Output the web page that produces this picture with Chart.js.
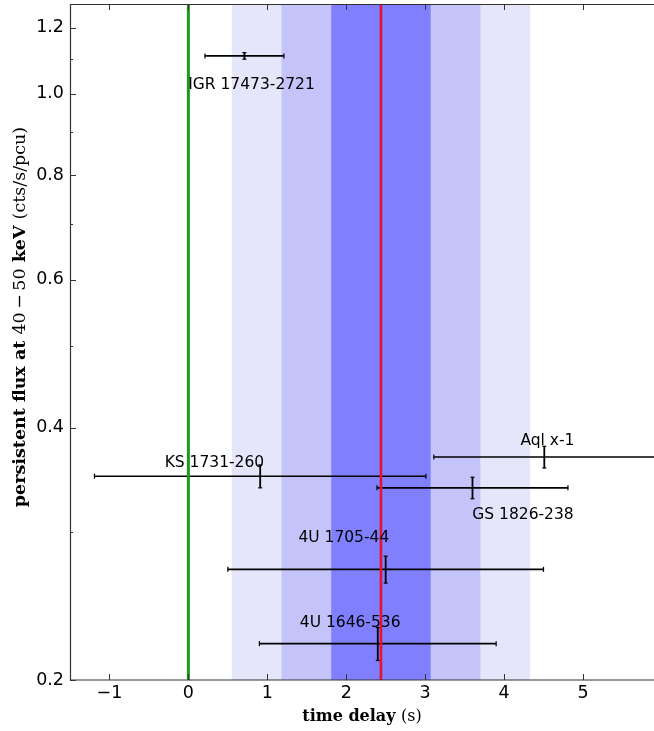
<!DOCTYPE html>
<html>
<head>
<meta charset="utf-8">
<script src="https://cdn.jsdelivr.net/npm/chart.js@4"></script>
<style>
  html, body { margin: 0; padding: 0; background: #fff; overflow: hidden; }
  canvas { display: block; }
</style>
</head>
<body>
<canvas id="delayChart" width="654" height="731"></canvas>
<script>
// Axis ticks
const xTicks = [-1, 0, 1, 2, 3, 4, 5];
const yTicks = [0.2, 0.4, 0.6, 0.8, 1.0, 1.2];
const yMinorTicks = [0.3, 0.5, 0.7, 0.9, 1.1];

// Sources: time delay (s) and persistent flux (cts/s/pcu)
const sources = ['IGR 17473-2721', 'KS 1731-260', 'Aql x-1', 'GS 1826-238', '4U 1705-44', '4U 1646-536'];
const delay = [0.71, 0.91, 4.51, 3.60, 2.50, 2.40];
const delayErr = [0.50, 2.10, 1.40, 1.21, 2.00, 1.50];
const flux = [1.11, 0.350, 0.369, 0.339, 0.271, 0.221];
const fluxErr = [0.010, 0.011, 0.011, 0.010, 0.010, 0.010];

// Where each source name is written (data coordinates)
const labelX = [0.80, 0.33, 4.55, 4.24, 1.97, 2.05];
const labelY = [1.025, 0.363, 0.386, 0.315, 0.295, 0.234];

// Mean delay and 1/2/3 sigma bands
const meanDelay = 2.44;
const bandHalfWidths = [1.89, 1.26, 0.63];
const bandColors = ['#e6e6fb', '#c4c4fb', '#8080ff'];

const xMin = -1.5, xMax = 5.9;
const yMin = 0.2, yMax = 1.28;

// axis titles: [text, weight]
const xTitle = [['time delay ', 'bold'], ['(s)', 'normal']];
const yTitle = [['persistent flux at ', 'bold'], ['40\u2009\u2212\u200950', 'normal'], [' keV ', 'bold'], ['(cts/s/pcu)', 'normal']];

const datasets = [];

// zero delay line and mean delay line (first = drawn on top)
datasets.push({
    data: [{ x: 0, y: yMin }, { x: 0, y: yMax }],
    borderColor: '#1c9a1c', borderWidth: 3, pointRadius: 0, showLine: true
});
datasets.push({
    data: [{ x: meanDelay, y: yMin }, { x: meanDelay, y: yMax }],
    borderColor: '#e8122c', borderWidth: 2.6, pointRadius: 0, showLine: true
});

// error bars
sources.forEach((name, i) => {
    datasets.push({
        label: name,
        data: [{ x: delay[i] - delayErr[i], y: flux[i] }, { x: delay[i] + delayErr[i], y: flux[i] }],
        borderColor: '#000', borderWidth: 1.6, showLine: true,
        pointStyle: 'line', pointRotation: 90, pointRadius: 2.5,
        pointBorderColor: '#000', pointBorderWidth: 1.2
    });
    datasets.push({
        label: name + ' flux',
        data: [{ x: delay[i], y: flux[i] - fluxErr[i] }, { x: delay[i], y: flux[i] + fluxErr[i] }],
        borderColor: '#000', borderWidth: 1.8, showLine: true,
        pointStyle: 'line', pointRotation: 0, pointRadius: 2,
        pointBorderColor: '#000', pointBorderWidth: 1.2
    });
});

// shaded sigma bands behind the data
const bandsPlugin = {
    id: 'bands',
    beforeDatasetsDraw(chart) {
        const { ctx, chartArea: a, scales: { x } } = chart;
        ctx.save();
        bandHalfWidths.forEach((hw, i) => {
            const x0 = x.getPixelForValue(meanDelay - hw);
            const x1 = x.getPixelForValue(meanDelay + hw);
            ctx.fillStyle = bandColors[i];
            ctx.fillRect(x0, a.top, x1 - x0, a.bottom - a.top);
        });
        ctx.restore();
    }
};

// source names
const labelsPlugin = {
    id: 'sourceLabels',
    afterDatasetsDraw(chart) {
        const { ctx, scales: { x, y } } = chart;
        ctx.save();
        ctx.font = '15.5px "DejaVu Sans"';
        ctx.fillStyle = '#000';
        ctx.textAlign = 'center';
        ctx.textBaseline = 'middle';
        sources.forEach((name, i) => {
            ctx.fillText(name, x.getPixelForValue(labelX[i]), y.getPixelForValue(labelY[i]));
        });
        ctx.restore();
    }
};

// draw a title made of bold and normal parts, centred on (cx, cy)
function drawTitle(ctx, parts, size, cx, cy, angle) {
    ctx.save();
    ctx.translate(cx, cy);
    ctx.rotate(angle);
    ctx.fillStyle = '#000';
    ctx.textBaseline = 'middle';
    ctx.textAlign = 'left';
    const fonts = parts.map(p => p[1] + ' ' + size + 'px "DejaVu Serif"');
    const widths = parts.map((p, i) => { ctx.font = fonts[i]; return ctx.measureText(p[0]).width; });
    let pos = -widths.reduce((s, w) => s + w, 0) / 2;
    parts.forEach((p, i) => {
        ctx.font = fonts[i];
        ctx.fillText(p[0], pos, 0);
        pos += widths[i];
    });
    ctx.restore();
}

// frame, inward ticks and axis titles, matplotlib style
const framePlugin = {
    id: 'frame',
    afterDraw(chart) {
        const { ctx, chartArea: a, scales: { x, y } } = chart;
        ctx.save();
        ctx.strokeStyle = '#333';
        ctx.lineWidth = 1.2;
        ctx.beginPath();
        ctx.moveTo(a.right + 2, a.top + 0.5);
        ctx.lineTo(a.left + 0.5, a.top + 0.5);
        ctx.lineTo(a.left + 0.5, a.bottom);
        ctx.lineTo(a.right + 2, a.bottom);
        ctx.stroke();
        ctx.lineWidth = 1;
        ctx.beginPath();
        xTicks.forEach(v => {
            const p = Math.round(x.getPixelForValue(v)) + 0.5;
            ctx.moveTo(p, a.bottom); ctx.lineTo(p, a.bottom - 6);
            ctx.moveTo(p, a.top); ctx.lineTo(p, a.top + 6);
        });
        yTicks.forEach(v => {
            const p = Math.round(y.getPixelForValue(v)) + 0.5;
            ctx.moveTo(a.left, p); ctx.lineTo(a.left + 6, p);
        });
        yMinorTicks.forEach(v => {
            const p = Math.round(y.getPixelForValue(v)) + 0.5;
            ctx.moveTo(a.left, p); ctx.lineTo(a.left + 3, p);
        });
        ctx.stroke();
        ctx.restore();

        drawTitle(ctx, xTitle, 16, (a.left + a.right) / 2, a.bottom + 37, 0);
        drawTitle(ctx, yTitle, 17.5, 20, (a.top + a.bottom) / 2 - 25, -Math.PI / 2);
    }
};

const ctx = document.getElementById('delayChart').getContext('2d');
new Chart(ctx, {
    type: 'scatter',
    data: { datasets: datasets },
    options: {
        responsive: false,
        animation: false,
        layout: { autoPadding: false, padding: { top: 4, right: 0, left: 0, bottom: 0 } },
        plugins: {
            legend: { display: false },
            tooltip: { enabled: false }
        },
        scales: {
            x: {
                type: 'linear',
                min: xMin,
                max: xMax,
                afterBuildTicks: scale => { scale.ticks = xTicks.map(v => ({ value: v })); },
                afterFit: scale => {
                    scale.height = 51;
                    scale.paddingLeft = 0;
                    scale.paddingRight = 0;
                },
                grid: { display: false, drawTicks: false },
                border: { display: false },
                ticks: {
                    color: '#000',
                    padding: 3,
                    maxRotation: 0,
                    font: { family: 'DejaVu Sans', size: 17.5 },
                    callback: v => (v < 0 ? '\u2212' + Math.abs(v) : String(v))
                }
            },
            y: {
                type: 'logarithmic',
                min: yMin,
                max: yMax,
                afterBuildTicks: scale => {
                    scale.ticks = yTicks.concat(yMinorTicks).sort((a, b) => a - b).map(v => ({ value: v }));
                },
                afterFit: scale => {
                    scale.width = 70;
                    scale.paddingTop = 0;
                    scale.paddingBottom = 0;
                },
                grid: { display: false, drawTicks: false },
                border: { display: false },
                ticks: {
                    color: '#000',
                    padding: 6,
                    font: { family: 'DejaVu Sans', size: 17.5 },
                    callback: v => (yTicks.some(t => Math.abs(t - v) < 1e-9) ? v.toFixed(1) : '')
                }
            }
        }
    },
    plugins: [bandsPlugin, labelsPlugin, framePlugin]
});
</script>
</body>
</html>
